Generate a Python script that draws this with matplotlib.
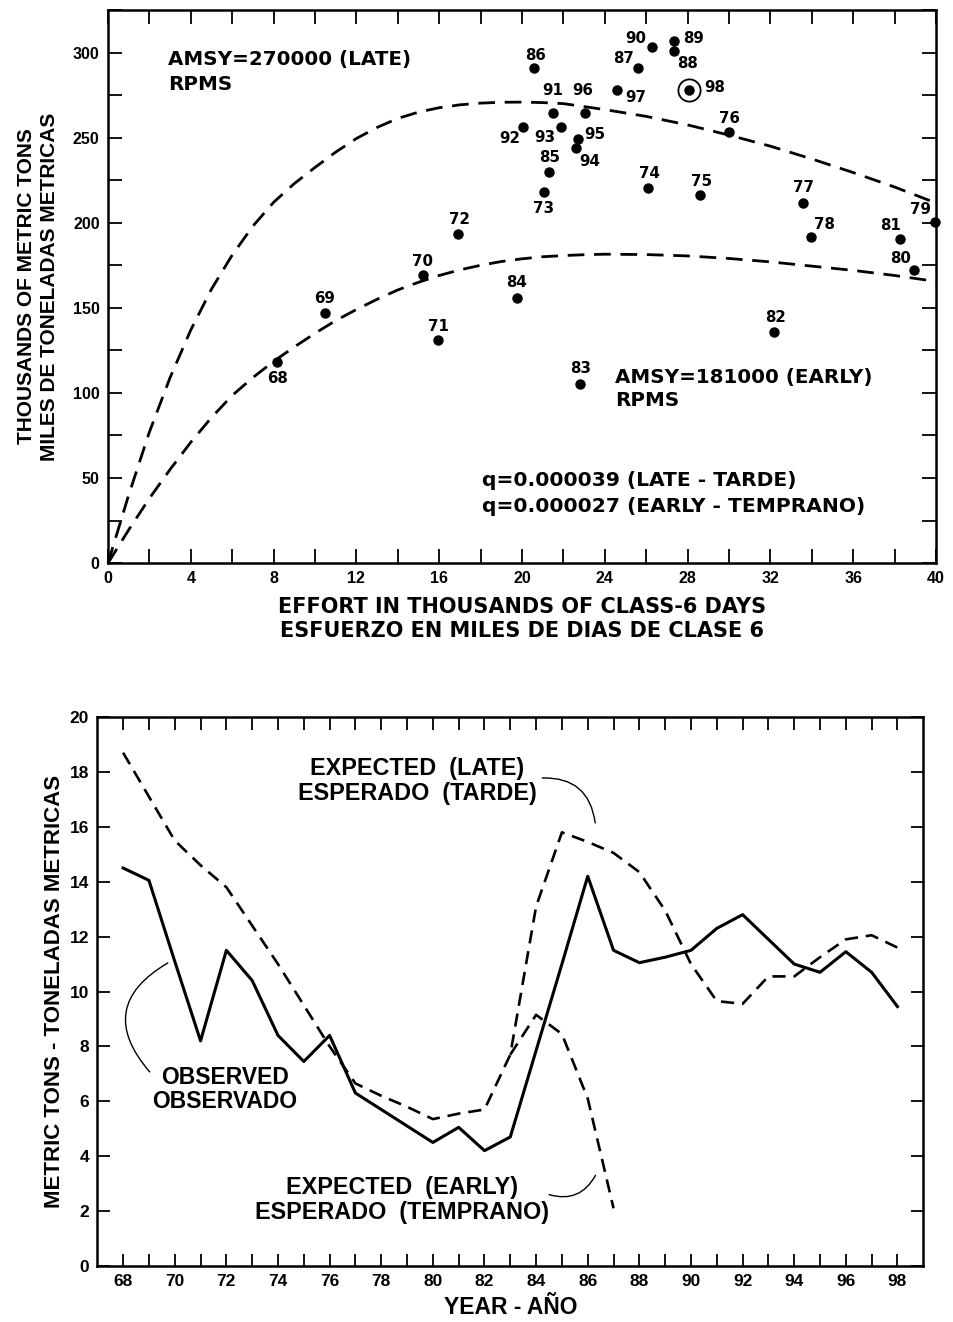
import matplotlib.pyplot as plt

plt.rcParams['font.family'] = ['Liberation Sans', 'DejaVu Sans']
plt.rcParams['font.weight'] = 'bold'
plt.rcParams['axes.labelweight'] = 'bold'

# el panel superior usa una letra mas ancha
ANCHA = ['DejaVu Sans']

# ==========================
# Datos panel superior (esfuerzo vs captura)
# ==========================
anios_pts = ['68', '69', '70', '71', '72', '73', '74', '75', '76', '77', '78',
             '79', '80', '81', '82', '83', '84', '85', '86', '87', '88', '89',
             '90', '91', '92', '93', '94', '95', '96', '97', '98']
esfuerzo = [8.18, 10.47, 15.2, 15.96, 16.9, 21.08, 26.1, 28.6, 30.0, 33.56,
            33.96, 39.97, 38.95, 38.24, 32.17, 22.8, 19.74, 21.3, 20.6, 25.6,
            27.35, 27.35, 26.3, 21.5, 20.03, 21.88, 22.6, 22.7, 23.06, 24.6,
            28.07]
captura = [118.4, 146.9, 169.4, 131.0, 193.3, 217.8, 220.4, 216.1, 253.1,
           211.6, 191.6, 200.2, 172.5, 190.2, 135.9, 105.5, 155.5, 229.8,
           290.8, 291.0, 301.0, 306.6, 303.5, 264.3, 256.3, 256.5, 243.7,
           249.0, 264.5, 277.8, 278.2]

# curvas de produccion
curva_tarde_x = [0, 1, 2, 3, 4, 5, 6, 7, 8, 9, 10, 11, 12, 13, 14, 15, 16,
                 17, 18, 19, 20, 21, 22, 24, 26, 28, 30, 32, 34, 36, 38, 39.7]
curva_tarde_y = [0, 40, 77, 109, 137, 161, 181, 198, 212, 223, 232.5, 241.5,
                 249.5, 256, 261.3, 265, 267.6, 269.3, 270.3, 270.8, 270.9,
                 270.6, 270, 266.5, 262.5, 257.5, 251.5, 245, 237.5, 229.5,
                 221, 213]
curva_temp_x = [0, 1, 2, 3, 4, 5, 6, 7, 8, 9, 10, 11, 12, 13, 14, 15, 16,
                17, 18, 19, 20, 21, 22, 23, 24, 26, 28, 30, 32, 34, 36, 38, 40]
curva_temp_y = [0, 19.5, 38, 55, 71, 85.5, 98.5, 109, 118.5, 127, 135, 142.5,
                149, 155, 160.5, 165, 169, 172.3, 175, 177.2, 178.8, 180,
                180.7, 181.2, 181.5, 181.3, 180.5, 179, 177, 174.5, 172, 169,
                165.5]

# desplazamiento de etiquetas en pixeles (dx, dy hacia abajo)
offsets = {
    '68': (0, 17), '69': (0, -15), '70': (0, -13), '71': (0, -14),
    '72': (2, -15), '73': (-1, 16), '74': (1, -15), '75': (2, -14),
    '76': (0, -14), '77': (1, -15), '78': (13, -13), '79': (-15, -13),
    '80': (-14, -11), '81': (-9, -14), '82': (2, -14), '83': (1, -15),
    '84': (0, -16), '85': (1, -15), '86': (1, -13), '87': (-14, -9),
    '88': (13, 13), '89': (19, -3), '90': (-17, -8), '91': (0, -23),
    '92': (-13, 12), '93': (-16, 11), '94': (14, 13), '95': (17, -5),
    '96': (-3, -22), '97': (19, 7), '98': (26, -2),
}

# ==========================
# Datos panel inferior (serie anual)
# ==========================
anios = list(range(68, 99))
observado = [14.5, 14.05, 11.1, 8.2, 11.5, 10.4, 8.4, 7.45, 8.4, 6.3, 5.7,
             5.1, 4.5, 5.05, 4.2, 4.7, 7.85, 11.0, 14.2, 11.5, 11.05, 11.25,
             11.5, 12.3, 12.8, 11.9, 11.0, 10.7, 11.45, 10.7, 9.45]
esperado_tarde = [18.7, 17.1, 15.5, 14.6, 13.8, 12.4, 11.0, 9.5, 8.0, 6.65,
                  6.2, 5.8, 5.35, 5.55, 5.7, 7.7, 13.1, 15.8, 15.45, 15.05,
                  14.35, 12.95, 11.0, 9.65, 9.55, 10.55, 10.55, 11.25, 11.9,
                  12.05, 11.6]
anios_temp = [83, 84, 85, 86, 87]
esperado_temp = [7.7, 9.15, 8.45, 6.1, 2.1]

# ==========================
# Figura
# ==========================
fig = plt.figure(figsize=(9.54, 13.22), dpi=100)
ax1 = fig.add_axes([0.1132, 0.5741, 0.8679, 0.4183])
ax2 = fig.add_axes([0.1020, 0.0424, 0.8658, 0.4152])

# --- panel superior
ax1.plot(curva_tarde_x, curva_tarde_y, color='black', lw=2.0,
         dashes=(6, 3.5), clip_on=False)
ax1.plot(curva_temp_x, curva_temp_y, color='black', lw=2.0,
         dashes=(6, 3.5), clip_on=False)
ax1.plot(esfuerzo, captura, 'o', color='black', ms=6.5, clip_on=False,
         zorder=5)
ax1.plot(esfuerzo[-1], captura[-1], 'o', mfc='none', mec='black', ms=16,
         mew=1.3, zorder=5)

for et, x, y in zip(anios_pts, esfuerzo, captura):
    dx, dy = offsets[et]
    guia = None
    if et in ('91', '96'):
        guia = dict(arrowstyle='-', lw=1.0, shrinkA=7, shrinkB=2)
    ax1.annotate(et, (x, y), xytext=(dx * 0.72, -dy * 0.72),
                 textcoords='offset points', ha='center', va='center',
                 fontsize=10.8, family=ANCHA, arrowprops=guia)

ax1.set_xlim(0, 40)
ax1.set_ylim(0, 325)
ax1.set_xticks(range(0, 41, 2))
ax1.set_xticklabels([str(v) if v % 4 == 0 else '' for v in range(0, 41, 2)])
ax1.set_yticks(range(0, 326, 25))
ax1.set_yticklabels([str(v) if v % 50 == 0 else '' for v in range(0, 326, 25)])
ax1.tick_params(direction='in', top=True, right=True, length=10, width=1.3,
                labelsize=11.5, pad=6)
for s in ax1.spines.values():
    s.set_linewidth(1.8)

ax1.set_xlabel('EFFORT IN THOUSANDS OF CLASS-6 DAYS\n'
               'ESFUERZO EN MILES DE DIAS DE CLASE 6',
               fontsize=15, labelpad=8, linespacing=1.2, family=ANCHA)
ax1.set_ylabel('THOUSANDS OF METRIC TONS\nMILES DE TONELADAS METRICAS',
               fontsize=15, labelpad=10, linespacing=1.25)

ax1.text(2.9, 296, 'AMSY=270000 (LATE)', fontsize=14.3, va='center',
         family=ANCHA)
ax1.text(2.9, 281, 'RPMS', fontsize=14.3, va='center', family=ANCHA)
ax1.text(24.5, 108.8, 'AMSY=181000 (EARLY)', fontsize=14.3, va='center',
         family=ANCHA)
ax1.text(24.5, 95.3, 'RPMS', fontsize=14.3, va='center', family=ANCHA)
ax1.text(18.07, 48.8, 'q=0.000039 (LATE - TARDE)', fontsize=14.6,
         va='center', family=ANCHA)
ax1.text(18.07, 33.5, 'q=0.000027 (EARLY - TEMPRANO)', fontsize=14.6,
         va='center', family=ANCHA)

# --- panel inferior
ax2.plot(anios, observado, color='black', lw=2.2)
ax2.plot(anios, esperado_tarde, color='black', lw=1.9, dashes=(5, 3))
ax2.plot(anios_temp, esperado_temp, color='black', lw=1.9, dashes=(5, 3))

ax2.set_xlim(67, 99)
ax2.set_ylim(0, 20)
ax2.set_xticks(anios)
ax2.set_xticklabels([str(a) if a % 2 == 0 else '' for a in anios])
ax2.set_yticks(range(0, 21, 2))
ax2.tick_params(direction='in', top=True, right=True, length=9, width=1.3,
                labelsize=12.5, pad=6)
for s in ax2.spines.values():
    s.set_linewidth(1.8)

ax2.set_xlabel('YEAR - AÑO', fontsize=16.5, labelpad=5)
ax2.set_ylabel('METRIC TONS - TONELADAS METRICAS', fontsize=16, labelpad=3)

ax2.text(79.4, 17.67, 'EXPECTED  (LATE)\nESPERADO  (TARDE)', fontsize=16.8,
         ha='center', va='center', linespacing=1.1)
ax2.text(71.94, 6.43, 'OBSERVED\nOBSERVADO', fontsize=16.5,
         ha='center', va='center', linespacing=1.1)
ax2.text(78.81, 2.39, 'EXPECTED  (EARLY)\nESPERADO  (TEMPRANO)', fontsize=16.8,
         ha='center', va='center', linespacing=1.1)

# lineas guia
ax2.annotate('', xy=(86.29, 16.14), xytext=(84.24, 17.78),
             arrowprops=dict(arrowstyle='-', lw=1.0, shrinkA=0, shrinkB=0,
                             connectionstyle='arc3,rad=-0.45'))
ax2.annotate('', xy=(69.03, 7.07), xytext=(69.73, 11.04),
             arrowprops=dict(arrowstyle='-', lw=1.0, shrinkA=0, shrinkB=0,
                             connectionstyle='arc3,rad=0.6'))
ax2.annotate('', xy=(86.3, 3.3), xytext=(84.5, 2.6),
             arrowprops=dict(arrowstyle='-', lw=1.0, shrinkA=0, shrinkB=0,
                             connectionstyle='arc3,rad=0.4'))

fig.savefig('out.png', dpi=100)
